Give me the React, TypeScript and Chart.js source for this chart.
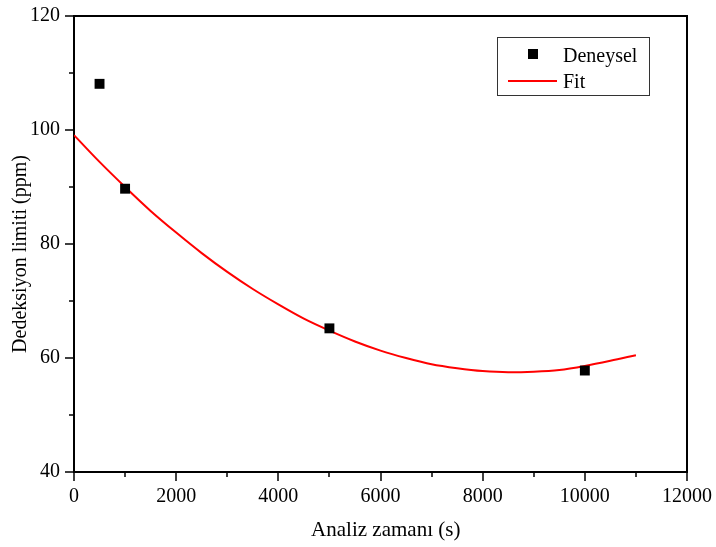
import React, { useEffect, useRef } from "react";
import { Chart, registerables } from "chart.js";

Chart.register(...registerables);

const expX = [500, 1000, 5000, 10000];
const expY = [108.1, 89.7, 65.2, 57.8];

const fitX = [0, 500, 1000, 1500, 2000, 2500, 3000, 3500, 4000, 4500, 5000, 5500, 6000, 6500, 7000, 7500, 8000, 8500, 9000, 9500, 10000, 10500, 11000];
const fitY = [99.1, 94.4, 90.0, 85.8, 82.0, 78.4, 75.1, 72.1, 69.4, 66.9, 64.8, 62.9, 61.3, 60.0, 58.9, 58.2, 57.7, 57.5, 57.6, 57.9, 58.6, 59.5, 60.5];

const xTickValues = [0, 2000, 4000, 6000, 8000, 10000, 12000];
const yTickValues = [40, 60, 80, 100, 120];

const xTitle = "Analiz zamanı (s)";
const yTitle = "Dedeksiyon limiti (ppm)";
const legendLabels = ["Deneysel", "Fit"];

const FONT = "'Liberation Serif', 'Times New Roman', serif";
const NB = "\u00a0";

const tickPlugin = {
  id: "customTicks",
  afterDraw(chart: any) {
    const ctx = chart.ctx;
    const xs = chart.scales.x;
    const ys = chart.scales.y;
    const ca = chart.chartArea;
    ctx.save();
    ctx.strokeStyle = "#000";
    ctx.lineWidth = 2;
    ctx.beginPath();
    ctx.moveTo(ca.left, ca.top);
    ctx.lineTo(ca.right, ca.top);
    ctx.lineTo(ca.right, ca.bottom);
    ctx.stroke();
    ctx.lineWidth = 1.5;
    for (let v = 0; v <= 12000; v += 1000) {
      const px = Math.round(xs.getPixelForValue(v));
      const len = v % 2000 === 0 ? 9 : 5;
      ctx.beginPath();
      ctx.moveTo(px, ca.bottom);
      ctx.lineTo(px, ca.bottom + len);
      ctx.stroke();
    }
    for (let v = 40; v <= 120; v += 10) {
      const py = Math.round(ys.getPixelForValue(v));
      const len = v % 20 === 0 ? 9 : 5;
      ctx.beginPath();
      ctx.moveTo(ca.left, py);
      ctx.lineTo(ca.left - len, py);
      ctx.stroke();
    }
    // legend
    const bx = ca.right - 190;
    const by = ca.top + 21;
    const bw = 152;
    const bh = 58;
    ctx.lineWidth = 1;
    ctx.strokeStyle = "#333";
    ctx.strokeRect(bx + 0.5, by + 0.5, bw, bh);
    ctx.fillStyle = "#000";
    ctx.fillRect(bx + 31, by + 12, 10, 10);
    ctx.strokeStyle = "#ff0000";
    ctx.lineWidth = 2;
    ctx.beginPath();
    ctx.moveTo(bx + 11, by + 44);
    ctx.lineTo(bx + 60, by + 44);
    ctx.stroke();
    ctx.fillStyle = "#000";
    ctx.font = "20px " + FONT;
    ctx.textBaseline = "alphabetic";
    ctx.textAlign = "left";
    ctx.fillText(legendLabels[0], bx + 66, by + 25);
    ctx.fillText(legendLabels[1], bx + 66, by + 51);
    ctx.restore();
  },
};

export default function App() {
  const ref = useRef<HTMLCanvasElement>(null);
  useEffect(() => {
    document.body.style.margin = "0";
    const chart = new Chart(ref.current!, {
      type: "scatter",
      data: {
        datasets: [
          {
            label: legendLabels[0],
            data: expX.map((x, i) => ({ x, y: expY[i] })),
            pointStyle: "rect",
            pointRadius: 7,
            backgroundColor: "#000",
            borderColor: "#000",
            borderWidth: 0,
            showLine: false,
            order: 0,
          },
          {
            label: legendLabels[1],
            data: fitX.map((x, i) => ({ x, y: fitY[i] })),
            showLine: true,
            pointRadius: 0,
            borderColor: "#ff0000",
            borderWidth: 2,
            tension: 0.4,
            cubicInterpolationMode: "monotone",
            fill: false,
            order: 1,
          } as any,
        ],
      },
      options: {
        animation: false,
        responsive: false,
        maintainAspectRatio: false,
        layout: { padding: { top: 16, right: 29, left: 0, bottom: 0 } },
        plugins: {
          legend: { display: false },
          tooltip: { enabled: false },
        },
        scales: {
          x: {
            type: "linear",
            min: 0,
            max: 12000,
            afterBuildTicks: (s: any) => {
              s.ticks = xTickValues.map((v) => ({ value: v }));
            },
            afterFit: (s: any) => {
              s.height = 75;
              s.paddingLeft = 0;
              s.paddingRight = 0;
            },
            grid: { display: false, drawTicks: false },
            border: { display: true, color: "#000", width: 2 },
            ticks: {
              color: "#000",
              font: { family: FONT, size: 20 },
              padding: 13,
              maxRotation: 0,
              autoSkip: false,
              callback: (v: any) => String(v),
            },
            title: {
              display: true,
              text: NB + NB + xTitle,
              color: "#000",
              font: { family: FONT, size: 21 },
              padding: { top: 0, bottom: 4 },
            },
          },
          y: {
            type: "linear",
            min: 40,
            max: 120,
            afterBuildTicks: (s: any) => {
              s.ticks = yTickValues.map((v) => ({ value: v }));
            },
            afterFit: (s: any) => {
              s.width = 74;
              s.paddingTop = 0;
              s.paddingBottom = 0;
            },
            grid: { display: false, drawTicks: false },
            border: { display: true, color: "#000", width: 2 },
            ticks: {
              color: "#000",
              font: { family: FONT, size: 20 },
              padding: 14,
              autoSkip: false,
              callback: (v: any) => String(v),
            },
            title: {
              display: true,
              text: yTitle + NB + NB + NB + NB,
              color: "#000",
              font: { family: FONT, size: 20 },
              padding: { top: 9, bottom: 0 },
            },
          },
        },
      },
      plugins: [tickPlugin],
    });
    return () => chart.destroy();
  }, []);
  return (
    <div style={{ width: 716, height: 547, background: "#fff" }}>
      <canvas ref={ref} width={716} height={547} style={{ display: "block" }} />
    </div>
  );
}
